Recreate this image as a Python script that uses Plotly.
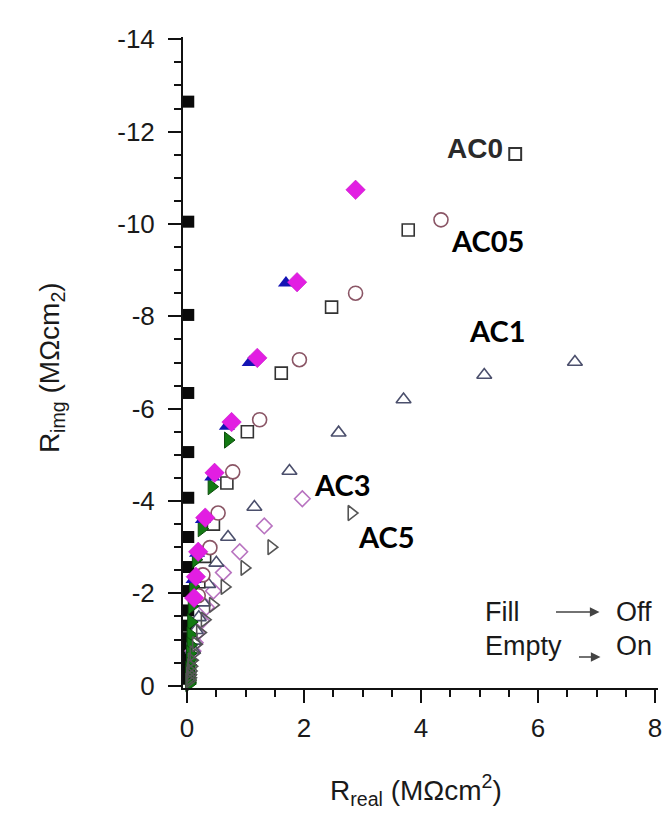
import plotly.graph_objects as go

# ---------------- data ----------------
# Filled markers (light off)
blk_sq_x = [0.02, 0.02, 0.02, 0.02, 0.02, 0.02, 0.02, 0.02, 0.02, 0.02, 0.02, 0.02, 0.02, 0.02, 0.02, 0.02, 0.02, 0.02, 0.02, 0.02]
blk_sq_y = [-12.65, -10.05, -8.03, -6.34, -5.06, -4.07, -3.22, -2.57, -2.05, -1.63, -1.30, -1.03, -0.82, -0.65, -0.52, -0.41, -0.33, -0.26, -0.20, -0.15]

blue_tri_x = [1.69, 1.07, 0.68, 0.43, 0.27, 0.17, 0.11]
blue_tri_y = [-8.72, -7.00, -5.62, -4.52, -3.60, -2.87, -2.30]

green_tri_x = [0.70, 0.42, 0.25, 0.15, 0.10, 0.08, 0.07, 0.06, 0.06, 0.05, 0.05, 0.05, 0.04, 0.04, 0.04, 0.04, 0.04, 0.04, 0.04, 0.04]
green_tri_y = [-5.32, -4.31, -3.40, -2.73, -2.15, -1.72, -1.38, -1.10, -0.88, -0.70, -0.56, -0.45, -0.36, -0.28, -0.22, -0.17, -0.13, -0.10, -0.07, -0.04]

mag_dia_x = [2.88, 1.88, 1.20, 0.76, 0.47, 0.31, 0.19, 0.15, 0.12]
mag_dia_y = [-10.74, -8.74, -7.10, -5.71, -4.61, -3.64, -2.90, -2.36, -1.90]

# Open markers (light on)
ac0_x = [3.78, 2.47, 1.61, 1.03, 0.68, 0.45, 0.30, 0.20]
ac0_y = [-9.87, -8.20, -6.77, -5.50, -4.39, -3.50, -2.80, -2.25]

ac05_x = [4.34, 2.88, 1.92, 1.24, 0.78, 0.53, 0.39, 0.27, 0.19]
ac05_y = [-10.09, -8.50, -7.06, -5.76, -4.63, -3.74, -2.99, -2.40, -1.95]

ac1_x = [6.63, 5.08, 3.70, 2.59, 1.75, 1.15, 0.70, 0.50, 0.36, 0.27, 0.20, 0.15, 0.12, 0.10]
ac1_y = [-7.01, -6.73, -6.20, -5.48, -4.65, -3.87, -3.22, -2.66, -2.20, -1.80, -1.48, -1.20, -0.97, -0.78]

ac3_x = [1.97, 1.32, 0.90, 0.62, 0.45, 0.33, 0.25, 0.18, 0.14, 0.10]
ac3_y = [-4.05, -3.46, -2.90, -2.45, -2.05, -1.70, -1.40, -1.15, -0.93, -0.75]

ac5_x = [2.81, 1.44, 0.98, 0.64, 0.44, 0.30, 0.22, 0.15, 0.11, 0.08, 0.07, 0.06, 0.05, 0.05, 0.04]
ac5_y = [-3.74, -3.00, -2.55, -2.14, -1.75, -1.43, -1.15, -0.90, -0.70, -0.55, -0.42, -0.32, -0.24, -0.17, -0.11]

x_ticks = [0, 2, 4, 6, 8]
y_ticks = [-14, -12, -10, -8, -6, -4, -2, 0]

# ---------------- layout helpers ----------------
L, R, T, B = 183, 662, 37, 688
W, H = R - L, B - T


def px(x):
    return (x - L) / W


def py(y):
    return (B - y) / H


fig = go.Figure()


def add(xs, ys, symbol, size, fill, line, lw):
    fig.add_trace(go.Scatter(
        x=xs, y=ys, mode="markers", showlegend=False, cliponaxis=False,
        marker=dict(symbol=symbol, size=size, color=fill,
                    line=dict(color=line, width=lw))))


add(blk_sq_x, blk_sq_y, "square", 12, "#0a0a0a", "#0a0a0a", 0)
add(ac3_x, ac3_y, "diamond", 12, "white", "#b873c0", 1.6)
add(ac1_x, ac1_y, "triangle-up", 13, "white", "#4b4f6c", 1.6)
add(ac0_x, ac0_y, "square", 12, "white", "#333333", 1.6)
add(ac05_x, ac05_y, "circle", 14, "white", "#8a5565", 1.6)
add(green_tri_x, green_tri_y, "triangle-right", 14, "#137a13", "#0b4d0b", 1)
add(ac5_x, ac5_y, "triangle-right-open", 13, "#555555", "#555555", 1.6)
add(blue_tri_x, blue_tri_y, "triangle-up", 14, "#1414b4", "#1414b4", 0)
add(mag_dia_x, mag_dia_y, "diamond", 15, "#e21ee2", "#c010c0", 0.5)

axis_common = dict(
    showline=True, linecolor="#111111", linewidth=2,
    ticks="outside", ticklen=13, tickwidth=2, tickcolor="#111111",
    showgrid=False, zeroline=False, ticklabeloverflow="allow",
    tickfont=dict(family="Liberation Sans, Arial, sans-serif", size=26, color="#1a1a1a"),
    minor=dict(ticks="outside", ticklen=7, tickwidth=2, tickcolor="#111111", dtick=0.5, showgrid=False),
)

fig.update_layout(
    width=662, height=817,
    margin=dict(l=L, r=662 - R, t=T, b=817 - B, pad=0),
    paper_bgcolor="white", plot_bgcolor="white",
    xaxis=dict(range=[-0.07, 8.05], tickvals=x_ticks, ticktext=[str(v) for v in x_ticks],
               ticklabelstandoff=3, **axis_common),
    yaxis=dict(range=[0.05, -14.05], tickvals=y_ticks, ticktext=[str(v) for v in y_ticks],
               ticklabelstandoff=8, **axis_common),
)

ann = []
font_title = dict(family="Liberation Sans, Arial, sans-serif", size=28, color="#1a1a1a")
ann.append(dict(x=px(50), y=py(368), xref="paper", yref="paper", textangle=-90,
                text="R<sub>img</sub> (MΩcm<sub>2</sub>)", showarrow=False, font=font_title,
                xanchor="center", yanchor="middle"))
ann.append(dict(x=px(418), y=py(790), xref="paper", yref="paper",
                text="R<sub>real</sub> (MΩcm<sup>2</sup>)", showarrow=False, font=font_title,
                xanchor="center", yanchor="middle"))

ann.append(dict(x=px(477), y=py(148), xref="paper", yref="paper", text="<b>AC0</b>",
                showarrow=False, font=dict(family="Liberation Sans, Arial", size=28, color="#2a2a2a"),
                xanchor="center", yanchor="middle"))
lab_font = dict(family="Lato, Carlito, sans-serif", size=29, color="#000000")
for t, cx, cy in [("AC05", 490, 241), ("AC1", 500, 330), ("AC3", 344, 484), ("AC5", 388, 536)]:
    ann.append(dict(x=px(cx), y=py(cy), xref="paper", yref="paper", text="<b>%s</b>" % t,
                    showarrow=False, font=lab_font, xanchor="center", yanchor="middle"))

small_font = dict(family="Liberation Sans, Arial, sans-serif", size=27, color="#1a1a1a")
for t, lx, cy in [("Fill", 486, 612), ("Off", 618, 612), ("Empty", 486, 646), ("On", 618, 646)]:
    ann.append(dict(x=px(lx), y=py(cy), xref="paper", yref="paper", text=t,
                    showarrow=False, font=small_font, xanchor="left", yanchor="middle"))

ann.append(dict(x=px(603), y=py(612), xref="paper", yref="paper", text="", showarrow=True,
                ax=-45, ay=0, arrowhead=2, arrowsize=1.2, arrowwidth=1.6, arrowcolor="#444444"))
ann.append(dict(x=px(604), y=py(657), xref="paper", yref="paper", text="", showarrow=True,
                ax=-23, ay=0, arrowhead=2, arrowsize=1.2, arrowwidth=1.6, arrowcolor="#444444"))

fig.update_layout(annotations=ann)

fig.add_shape(type="rect", xref="paper", yref="paper",
              x0=px(512), x1=px(524), y0=py(160), y1=py(148),
              line=dict(color="#333333", width=2))

fig.write_html("out.html")
